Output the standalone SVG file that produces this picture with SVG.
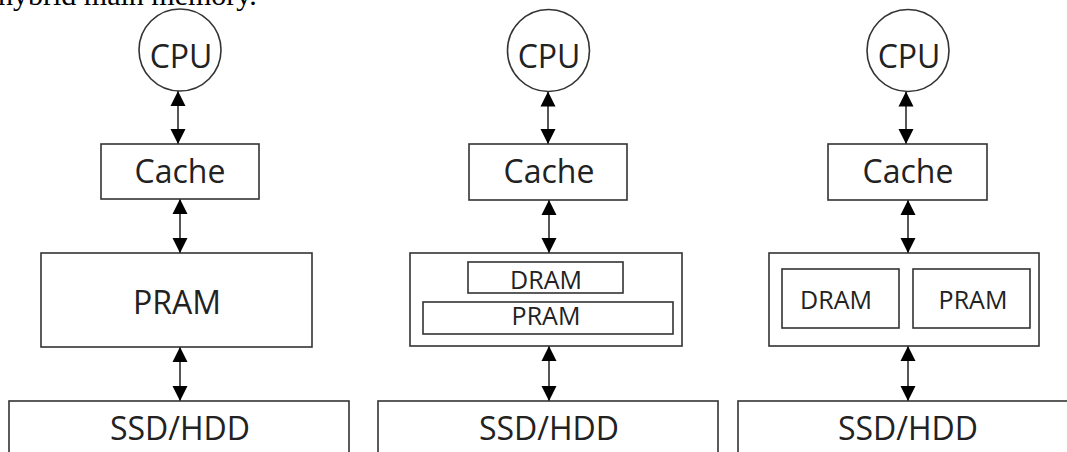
<svg xmlns="http://www.w3.org/2000/svg" width="1067" height="452" viewBox="0 0 1067 452">
<style>
.box{fill:#fff;stroke:#333;stroke-width:1.6}
.lbl{font-family:"Open Sans","DejaVu Sans",sans-serif;font-size:32px;fill:#222;text-anchor:middle}
.sm{font-size:25px}
.cap{font-family:"Liberation Serif","Times New Roman",serif;font-size:30px;fill:#000}
.con{stroke:#444;stroke-width:1.8;fill:none;marker-start:url(#ah);marker-end:url(#ah)}
</style>
<defs>
<marker id="ah" markerUnits="userSpaceOnUse" markerWidth="16" markerHeight="16" refX="15" refY="8" orient="auto-start-reverse">
<path d="M0,0.5 L15,8 L0,15.5 z" fill="#000"/>
</marker>
</defs>
<rect width="1067" height="452" fill="#fff"/>
<text class="cap" x="-2" y="5">hybrid main memory.</text>

<g id="col1-cpu"><circle class="box" cx="180" cy="50" r="41"/><text class="lbl" x="181" y="68">CPU</text></g>
<g id="col1-cache"><rect class="box" x="101" y="144" width="158" height="55"/><text class="lbl" x="180" y="183">Cache</text></g>
<g id="col1-pram"><rect class="box" x="41" y="253" width="271" height="94"/><text class="lbl" x="177" y="314">PRAM</text></g>
<g id="col1-ssd"><rect class="box" x="9" y="401" width="340" height="60"/><text class="lbl" x="180" y="440">SSD/HDD</text></g>

<g id="col2-cpu"><circle class="box" cx="548.5" cy="50.5" r="41"/><text class="lbl" x="549" y="68">CPU</text></g>
<g id="col2-cache"><rect class="box" x="469" y="144" width="158" height="56"/><text class="lbl" x="549" y="183">Cache</text></g>
<g id="col2-mem"><rect class="box" x="410" y="253" width="272" height="93"/>
<g id="col2-dram"><rect class="box" x="468" y="262" width="155" height="31"/><text class="lbl sm" x="546" y="289">DRAM</text></g>
<g id="col2-pram"><rect class="box" x="423" y="302" width="250" height="32"/><text class="lbl sm" x="546" y="325">PRAM</text></g>
</g>
<g id="col2-ssd"><rect class="box" x="378" y="401" width="340" height="60"/><text class="lbl" x="549" y="440">SSD/HDD</text></g>

<g id="col3-cpu"><circle class="box" cx="908" cy="50.5" r="41"/><text class="lbl" x="909" y="68">CPU</text></g>
<g id="col3-cache"><rect class="box" x="828" y="144" width="159" height="56"/><text class="lbl" x="908" y="183">Cache</text></g>
<g id="col3-mem"><rect class="box" x="769" y="253" width="270" height="93"/>
<g id="col3-dram"><rect class="box" x="782" y="269" width="117" height="59"/><text class="lbl sm" x="836" y="309">DRAM</text></g>
<g id="col3-pram"><rect class="box" x="913" y="269" width="117" height="59"/><text class="lbl sm" x="973" y="309">PRAM</text></g>
</g>
<g id="col3-ssd"><rect class="box" x="738" y="401" width="340" height="60"/><text class="lbl" x="908" y="440">SSD/HDD</text></g>

<g id="connectors">
<line class="con" x1="178" y1="91" x2="178" y2="144"/>
<line class="con" x1="180" y1="199" x2="180" y2="253"/>
<line class="con" x1="180" y1="347" x2="180" y2="401"/>
<line class="con" x1="548" y1="91.5" x2="548" y2="144"/>
<line class="con" x1="549" y1="200" x2="549" y2="253"/>
<line class="con" x1="549" y1="346" x2="549" y2="401"/>
<line class="con" x1="906" y1="91.5" x2="906" y2="144"/>
<line class="con" x1="908" y1="200" x2="908" y2="253"/>
<line class="con" x1="908" y1="346" x2="908" y2="401"/>
</g>
</svg>
